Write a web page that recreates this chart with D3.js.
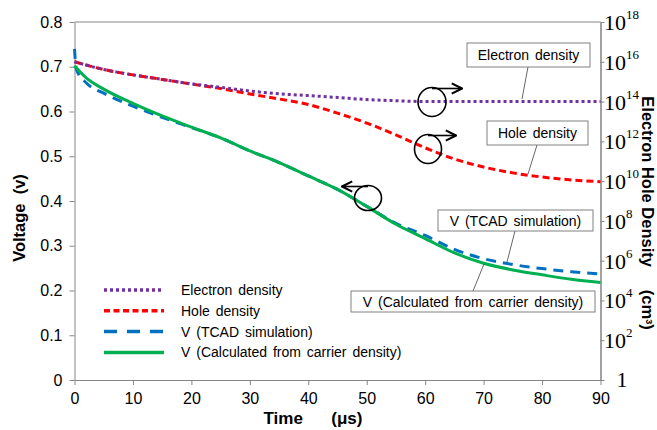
<!DOCTYPE html>
<html>
<head>
<meta charset="utf-8">
<script src="https://cdn.jsdelivr.net/npm/d3@7"></script>
<style>
  body { margin: 0; background: #fff; }
  text { font-family: "Liberation Sans", Arial, sans-serif; }
</style>
</head>
<body>
<div id="chart"></div>
<script>
const width = 657;
const height = 430;

// time axis (µs)
const timeTicks = [0, 10, 20, 30, 40, 50, 60, 70, 80, 90];
const voltTicks = [0, 0.1, 0.2, 0.3, 0.4, 0.5, 0.6, 0.7, 0.8];
const densityExpTicks = [0, 2, 4, 6, 8, 10, 12, 14, 16, 18];

// carrier densities (cm^-3)
const densityTime = [0, 5, 10, 15, 20, 25, 30, 35, 40, 45, 50, 55, 60, 65, 70, 75, 80, 85, 90];
const electronDensity = [1.0e16, 4.1e15, 2.2e15, 1.3e15, 7.8e14, 5.2e14, 3.4e14, 2.45e14, 2.0e14, 1.6e14,
  1.26e14, 1.1e14, 1.0e14, 1.0e14, 1.0e14, 1.0e14, 1.0e14, 1.0e14, 1.0e14];
const holeDensity = [1.0e16, 4.1e15, 2.2e15, 1.3e15, 7.6e14, 4.5e14, 2.4e14, 1.35e14, 7.1e13, 2.6e13,
  8.3e12, 2.1e12, 4.7e11, 1.3e11, 5.1e10, 2.6e10, 1.6e10, 1.15e10, 9.3e9];

// voltages (V)
const tcadTime = [0, 0.3, 2, 5, 10, 15, 20, 25, 30, 35, 40, 45, 50, 55, 60, 65, 70, 75, 80, 85, 90];
const tcadV = [0.740, 0.695, 0.664, 0.641, 0.612, 0.587, 0.564, 0.541, 0.512, 0.486, 0.456, 0.426,
  0.388, 0.350, 0.323, 0.292, 0.271, 0.258, 0.249, 0.242, 0.237];
const calcTime = [0, 2, 5, 10, 15, 20, 25, 30, 35, 40, 45, 50, 55, 60, 65, 70, 75, 80, 85, 90];
const calcV = [0.702, 0.675, 0.650, 0.618, 0.590, 0.565, 0.541, 0.512, 0.486, 0.456, 0.426, 0.388,
  0.348, 0.316, 0.284, 0.261, 0.246, 0.235, 0.225, 0.218];

const legendLabels = ["Electron density", "Hole density", "V (TCAD simulation)", "V (Calculated from carrier density)"];

const plot = { left: 74.5, right: 600.5, top: 22, bottom: 380 };

const x = d3.scaleLinear().domain([0, 90]).range([plot.left, plot.right]);
const yV = d3.scaleLinear().domain([0, 0.8]).range([plot.bottom, plot.top]);
const yN = d3.scaleLog().domain([1, 1e18]).range([plot.bottom, plot.top]);

const svg = d3.select("#chart").append("svg")
  .attr("width", width)
  .attr("height", height);

const defs = svg.append("defs");
defs.append("marker")
  .attr("id", "arrow")
  .attr("viewBox", "0 0 10 10")
  .attr("refX", 9).attr("refY", 5)
  .attr("markerWidth", 8).attr("markerHeight", 8)
  .attr("orient", "auto-start-reverse")
  .append("path")
  .attr("d", "M1,1 L9,5 L1,9")
  .attr("fill", "none")
  .attr("stroke", "#000")
  .attr("stroke-width", 1.6);

// top frame line
svg.append("line")
  .attr("x1", plot.left).attr("x2", plot.right)
  .attr("y1", plot.top).attr("y2", plot.top)
  .attr("stroke", "#868686");

// axes
const xAxis = svg.append("g")
  .attr("transform", `translate(0,${plot.bottom})`)
  .call(d3.axisBottom(x).tickValues(timeTicks).tickSize(5).tickSizeOuter(0).tickPadding(8));
xAxis.selectAll("text").attr("font-size", 16).attr("fill", "#000")
  .style("font-family", "'Liberation Sans', Arial, sans-serif");

const yAxisL = svg.append("g")
  .attr("transform", `translate(${plot.left},0)`)
  .call(d3.axisLeft(yV).tickValues(voltTicks).tickFormat(d => d === 0 ? "0" : d3.format(".1f")(d))
    .tickSize(5).tickSizeOuter(0).tickPadding(7));
yAxisL.selectAll("text").attr("font-size", 16).attr("fill", "#000")
  .style("font-family", "'Liberation Sans', Arial, sans-serif");

const yAxisR = svg.append("g")
  .attr("transform", `translate(${plot.right},0)`)
  .call(d3.axisRight(yN).tickValues(densityExpTicks.map(e => Math.pow(10, e)))
    .tickFormat("").tickSize(4).tickSizeOuter(0));

[xAxis, yAxisL, yAxisR].forEach(g => {
  g.select(".domain").attr("stroke", "#868686");
  g.selectAll(".tick line").attr("stroke", "#868686");
});
yAxisR.select(".domain").attr("stroke", "#444");

// right axis labels in serif with superscripts
const rLabels = svg.append("g");
densityExpTicks.forEach(e => {
  const yy = yN(Math.pow(10, e));
  if (e === 0) {
    rLabels.append("text")
      .attr("x", 622).attr("y", yy + 7)
      .attr("text-anchor", "middle")
      .style("font-family", "'Liberation Serif', 'Times New Roman', serif")
      .attr("font-size", 22)
      .text("1");
  } else {
    const t = rLabels.append("text")
      .attr("x", 604).attr("y", yy + 8)
      .style("font-family", "'Liberation Serif', 'Times New Roman', serif")
      .attr("font-size", 22);
    t.append("tspan").text("10");
    t.append("tspan").attr("dy", -11).attr("font-size", 13).text(e);
  }
});

// axis titles
svg.append("text")
  .attr("transform", "translate(25,218) rotate(-90)")
  .attr("text-anchor", "middle")
  .attr("font-size", 16.5).attr("font-weight", "bold")
  .attr("xml:space", "preserve")
  .text("Voltage  (v)");

const rTitle = svg.append("text")
  .attr("transform", "translate(642,213) rotate(90)")
  .attr("text-anchor", "middle")
  .attr("font-size", 16.5).attr("font-weight", "bold")
  .attr("xml:space", "preserve");
rTitle.append("tspan").text("Electron Hole Density     (cm");
rTitle.append("tspan").attr("dy", -4).attr("font-size", 9).text("3");
rTitle.append("tspan").attr("dy", 4).text(")");

svg.append("text")
  .attr("x", 313).attr("y", 424)
  .attr("text-anchor", "middle")
  .attr("font-size", 17).attr("font-weight", "bold")
  .attr("xml:space", "preserve")
  .text("Time      (μs)");

// series
const series = [
  { time: tcadTime, values: tcadV, scale: yV, color: "#0070C0", dash: "10,7" },
  { time: calcTime, values: calcV, scale: yV, color: "#00B050", dash: null },
  { time: densityTime, values: holeDensity, scale: yN, color: "#FF0000", dash: "7,4" },
  { time: densityTime, values: electronDensity, scale: yN, color: "#7030A0", dash: "3,3" }
];

series.forEach(s => {
  const line = d3.line()
    .x((d, i) => x(s.time[i]))
    .y(d => s.scale(d))
    .curve(d3.curveMonotoneX);
  svg.append("path")
    .datum(s.values)
    .attr("d", line)
    .attr("fill", "none")
    .attr("stroke", s.color)
    .attr("stroke-width", 3)
    .attr("stroke-dasharray", s.dash);
});

// legend
const legendStyles = [
  { color: "#7030A0", dash: "3,3" },
  { color: "#FF0000", dash: "6,3.5" },
  { color: "#0070C0", dash: "13,10" },
  { color: "#00B050", dash: null }
];
const legend = svg.append("g");
legendLabels.forEach((label, i) => {
  const yy = 290 + i * 20.8;
  legend.append("line")
    .attr("x1", 104).attr("x2", 164)
    .attr("y1", yy).attr("y2", yy)
    .attr("stroke", legendStyles[i].color)
    .attr("stroke-width", 3.5)
    .attr("stroke-dasharray", legendStyles[i].dash);
  legend.append("text")
    .attr("x", 181).attr("y", yy + 5)
    .attr("font-size", 14)
    .style("word-spacing", "2px")
    .text(label);
});

// callout boxes with leader lines
const callouts = [
  { label: legendLabels[0], box: [467, 43, 123, 24], from: [528, 67], to: [522, 99] },
  { label: legendLabels[1], box: [487, 121, 101, 24], from: [537, 145], to: [528, 174] },
  { label: legendLabels[2], box: [438, 210, 155, 21], from: [515, 231], to: [507, 262] },
  { label: legendLabels[3], box: [351, 291, 244, 21], from: [473, 291], to: [484, 264] }
];
callouts.forEach(c => {
  svg.append("line")
    .attr("x1", c.from[0]).attr("y1", c.from[1])
    .attr("x2", c.to[0]).attr("y2", c.to[1])
    .attr("stroke", "#404040").attr("stroke-width", 0.8);
  svg.append("rect")
    .attr("x", c.box[0]).attr("y", c.box[1])
    .attr("width", c.box[2]).attr("height", c.box[3])
    .attr("fill", "#fff")
    .attr("stroke", "#808080");
  svg.append("text")
    .attr("x", c.box[0] + c.box[2] / 2).attr("y", c.box[1] + c.box[3] / 2 + 5)
    .attr("text-anchor", "middle")
    .attr("font-size", 14)
    .style("word-spacing", "2px")
    .text(c.label);
});

// axis indicator symbols (circle + arrow)
const symbols = [
  { cx: 432, cy: 102, rx: 14, ry: 14.5, dir: 1, len: 30 },
  { cx: 428, cy: 149, rx: 13.5, ry: 14.5, dir: 1, len: 28 },
  { cx: 368, cy: 198, rx: 13.5, ry: 12.5, dir: -1, len: 26 }
];
symbols.forEach(s => {
  svg.append("ellipse")
    .attr("cx", s.cx).attr("cy", s.cy)
    .attr("rx", s.rx).attr("ry", s.ry)
    .attr("fill", "none")
    .attr("stroke", "#000")
    .attr("stroke-width", 1.6);
  const y0 = s.cy - s.ry + 1;
  svg.append("line")
    .attr("x1", s.cx).attr("y1", y0)
    .attr("x2", s.cx + s.dir * s.len).attr("y2", y0)
    .attr("stroke", "#000")
    .attr("stroke-width", 1.6)
    .attr("marker-end", "url(#arrow)");
});
</script>
</body>
</html>
